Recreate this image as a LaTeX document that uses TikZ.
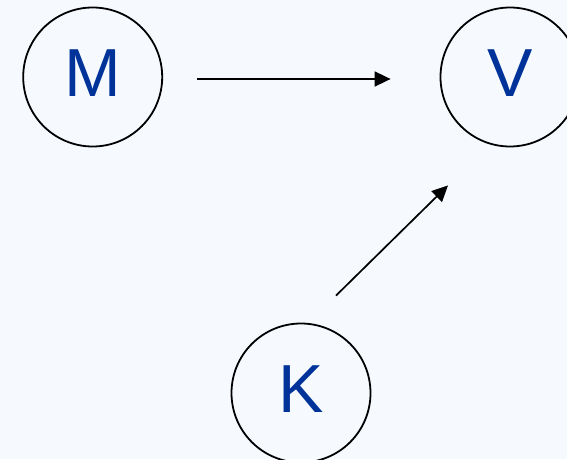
\documentclass[tikz,border=0pt]{standalone}
\usepackage{fontspec}
\setmainfont{Liberation Sans}
\usetikzlibrary{arrows.meta}

\definecolor{bgblue}{RGB}{246,250,255}
\definecolor{letterblue}{RGB}{0,51,153}

\begin{document}
\begin{tikzpicture}[x=1pt, y=1pt, >={Triangle[length=16pt, width=15pt]},
		var/.style={circle, draw, line width=1.8pt, minimum size=139pt, inner sep=0pt,
			text=letterblue, font=\fontsize{68}{68}\selectfont,
			text height=47pt, text depth=8pt}]

		\fill[bgblue] (0,0) rectangle (567,459);
		\useasboundingbox (0,0) rectangle (567,459);

		% вершини графа
		\foreach \n/\x/\y in {
				M/92.7/382,
				V/510/382,
				K/301/66
			} {
				\node[var] (\n) at (\x,\y) {\n};
			}

		\draw[->, line width=1.7pt] ([shift={(34pt,-2pt)}]M.east) -- ([shift={(-49pt,-2pt)}]V.west);
		\draw[->, line width=1.7pt] ([shift={(35pt,27pt)}]K.north) -- ([shift={(-62pt,-38pt)}]V.south);
	\end{tikzpicture}
\end{document}
